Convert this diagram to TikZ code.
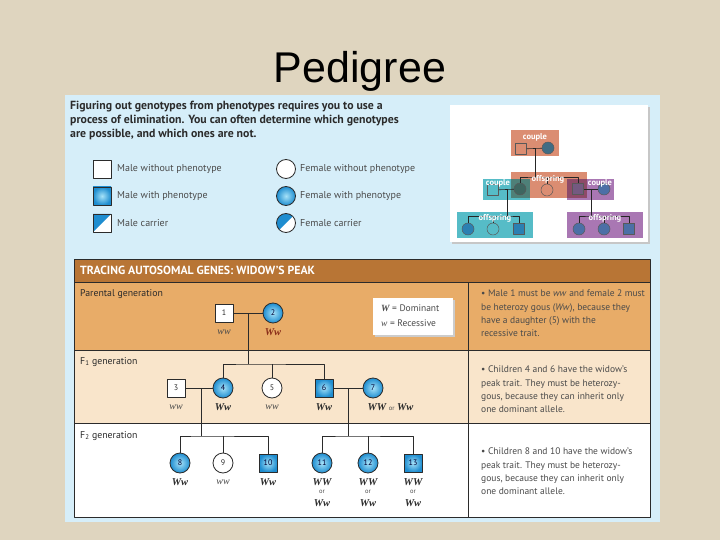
\documentclass[tikz,border=0pt]{standalone}
\usepackage{fontspec}
\setmainfont{PT Sans}
\newfontfamily\titlefont{Liberation Sans}
\newfontfamily\genofont{Liberation Serif}
\usepackage{tikz}

\definecolor{bgbeige}{HTML}{DFD5BF}
\definecolor{panelblue}{HTML}{D6EEF9}
\definecolor{headbrown}{HTML}{B87535}
\definecolor{rowtan}{HTML}{E8AC68}
\definecolor{rowpeach}{HTML}{F9E5CB}
\definecolor{phenoblue}{HTML}{1E8DD0}
\definecolor{phenolight}{HTML}{A6E2F8}
\definecolor{linedark}{HTML}{2B2B2B}
\definecolor{textgray}{HTML}{4A4A4A}
\definecolor{genored}{HTML}{8A2E1A}
\definecolor{minisalmon}{HTML}{DB8D72}
\definecolor{miniteal}{HTML}{56BCC7}
\definecolor{minipurple}{HTML}{A977B3}
\definecolor{minitealdark}{HTML}{4E8078}
\definecolor{minirose}{HTML}{8E4A68}
\definecolor{miniblue}{HTML}{4C6FA6}
\definecolor{minislate}{HTML}{3F6C84}

\tikzset{
  male/.style={draw=linedark,line width=0.8pt,fill=white,minimum size=18pt,inner sep=0pt,
    text=linedark,font=\fontsize{8}{8}\selectfont},
  female/.style={circle,draw=linedark,line width=0.8pt,fill=white,minimum size=20pt,inner sep=0pt,
    text=linedark,font=\fontsize{8}{8}\selectfont},
  affected/.style={shading=radial,inner color=phenolight,outer color=phenoblue,text=black!80!blue},
  carrier/.style={path picture={\fill[phenoblue] (path picture bounding box.north west)
    -- (path picture bounding box.north east) -- (path picture bounding box.south west) -- cycle;}},
  kin/.style={draw=linedark,line width=0.8pt},
  geno/.style={font=\genofont\itshape\bfseries\fontsize{10.5}{10.5}\selectfont,text=linedark},
  genolight/.style={font=\genofont\itshape\fontsize{10}{10}\selectfont,text=textgray},
  ortext/.style={font=\fontsize{6.5}{6.5}\selectfont,text=textgray},
  rowlabel/.style={anchor=west,inner sep=0pt,font=\fontsize{9.8}{10}\selectfont,text=linedark},
  legendlabel/.style={anchor=west,inner sep=0pt,font=\fontsize{10}{10}\selectfont,text=textgray},
  note/.style={anchor=north west,inner sep=0pt,align=left,font=\fontsize{9.5}{13.3}\selectfont,text=textgray},
  tablerule/.style={draw=linedark,line width=0.9pt},
  minim/.style={draw=black!65,line width=0.5pt,minimum size=11pt,inner sep=0pt},
  minif/.style={circle,draw=black!65,line width=0.5pt,minimum size=12pt,inner sep=0pt},
  minilabel/.style={inner sep=0.5pt,text=white,font=\bfseries\fontsize{8.5}{8.5}\selectfont},
  minikin/.style={draw=black!85,line width=0.6pt}
}

\begin{document}
\begin{tikzpicture}[x=1pt,y=-1pt,line join=round]
  \useasboundingbox (0,0) rectangle (720,540);
  \fill[bgbeige] (0,0) rectangle (720,540);
  \node[font=\titlefont\fontsize{43}{43}\selectfont,anchor=base,inner sep=0pt] (title) at (360,83) {Pedigree};

  % light blue panel
  \fill[panelblue] (65,95) rectangle (660,522);
  \node[anchor=north west,inner sep=0pt,align=left,text=linedark,
    font=\bfseries\fontsize{11.8}{14}\selectfont] (intro) at (70,101)
    {Figuring out genotypes from phenotypes requires you to use a\\
     process of elimination. You can often determine which genotypes\\
     are possible, and which ones are not.};

  % legend
  \node[male] (lgA) at (102,169) {};
  \node[male,affected] (lgB) at (102,196) {};
  \node[male,carrier] (lgC) at (102,223) {};
  \node[female,minimum size=19pt] (lgD) at (286,169) {};
  \node[female,affected,minimum size=19pt] (lgE) at (286,196) {};
  \node[female,carrier,minimum size=19pt] (lgF) at (286,223) {};
  \node[legendlabel] (lgAt) at (117,169) {Male without phenotype};
  \node[legendlabel] (lgBt) at (117,196) {Male with phenotype};
  \node[legendlabel] (lgCt) at (117,223) {Male carrier};
  \node[legendlabel] (lgDt) at (300,169) {Female without phenotype};
  \node[legendlabel] (lgEt) at (300,196) {Female with phenotype};
  \node[legendlabel] (lgFt) at (300,223) {Female carrier};

  % overview of couples and offspring
  \fill[black!22] (452,107) rectangle (650,244);
  \fill[white] (450,105) rectangle (648,242);
  \fill[minisalmon] (511,130) rectangle (559,156);
  \fill[minisalmon] (511,172) rectangle (587,198);
  \fill[miniteal] (483,179) rectangle (530,200);
  \fill[minipurple] (567,179) rectangle (614,200);
  \fill[minitealdark] (511,179) rectangle (530,198);
  \fill[minirose] (567,179) rectangle (587,198);
  \fill[miniteal] (457,212) rectangle (533,238);
  \fill[minipurple] (567,212) rectangle (643,238);
  \node[minim,fill=minisalmon] (tm) at (521,149) {};
  \node[minif,fill=minislate] (tf) at (548,148) {};
  \node[minim,fill=miniteal] (lm) at (493,190) {};
  \node[minif,fill=minitealdark!80!black] (lf) at (520,189) {};
  \node[minif,fill=minisalmon] (om) at (547,190) {};
  \node[minim,fill=minirose!60!miniblue] (rm) at (578,189) {};
  \node[minif,fill=miniblue] (rf) at (604,189) {};
  \node[minif,fill=phenoblue!60!minislate] (a1) at (468,229) {};
  \node[minif,fill=miniteal] (a2) at (493,229) {};
  \node[minim,fill=phenoblue!60!minislate] (a3) at (519,229) {};
  \node[minif,fill=miniblue] (b1) at (579,229) {};
  \node[minif,fill=miniblue] (b2) at (604,229) {};
  \node[minim,fill=miniblue] (b3) at (629,229) {};
  \coordinate (tc) at (535,149);
  \coordinate (oc) at (535,177);
  \coordinate (lc) at (507,190);
  \coordinate (lo) at (507,216);
  \coordinate (rc) at (591,189);
  \coordinate (ro) at (591,216);
  \draw[minikin] (tm) -- (tf);
  \draw[minikin] (tc) -- (oc);
  \draw[minikin] (lf.north) |- (oc) -| (rm.north);
  \draw[minikin] (om.north) -- (om.north |- oc);
  \draw[minikin] (lm) -- (lf);
  \draw[minikin] (lc) -- (lo);
  \draw[minikin] (a1.north) |- (lo) -| (a3.north);
  \draw[minikin] (a2.north) -- (a2.north |- lo);
  \draw[minikin] (rm) -- (rf);
  \draw[minikin] (rc) -- (ro);
  \draw[minikin] (b1.north) |- (ro) -| (b3.north);
  \draw[minikin] (b2.north) -- (b2.north |- ro);
  \node[minilabel] (cpT) at (535,137) {couple};
  \node[minilabel] (cpL) at (498,183) {couple};
  \node[minilabel] (cpR) at (600,183) {couple};
  \node[minilabel] (osT) at (548,179) {offspring};
  \node[minilabel] (osL) at (495,218) {offspring};
  \node[minilabel] (osR) at (605,218) {offspring};

  % table
  \fill[headbrown] (74,259) rectangle (650,282);
  \fill[rowtan] (74,282) rectangle (650,350);
  \fill[rowpeach] (74,350) rectangle (650,423);
  \fill[white] (74,423) rectangle (650,517);
  \draw[tablerule] (74,259) rectangle (650,517);
  \draw[tablerule] (74,282) -- (650,282);
  \draw[tablerule] (74,350) -- (650,350);
  \draw[tablerule] (74,423) -- (650,423);
  \draw[tablerule] (468,282) -- (468,517);
  \node[anchor=west,inner sep=0pt,text=white,font=\bfseries\fontsize{11.8}{12}\selectfont] (head) at (80,270)
    {TRACING AUTOSOMAL GENES: WIDOW'S PEAK};
  \node[rowlabel] (rowP) at (80,294) {Parental generation};
  \node[rowlabel] (rowF1) at (80,362) {F\textsubscript{1} generation};
  \node[rowlabel] (rowF2) at (80,436) {F\textsubscript{2} generation};

  % allele key
  \fill[black!20] (375,300) rectangle (455,337);
  \fill[white] (373,298) rectangle (453,335);
  \node[anchor=west,inner sep=0pt,font=\fontsize{9.5}{10}\selectfont,text=textgray] (keyW) at (381,308)
    {{\genofont\itshape\bfseries W} = Dominant};
  \node[anchor=west,inner sep=0pt,font=\fontsize{9.5}{10}\selectfont,text=textgray] (keyw) at (381,323)
    {{\genofont\itshape w} = Recessive};

  % individuals
  \node[male] (p1) at (224,313) {1};
  \node[female,affected] (p2) at (273,313) {2};
  \node[male] (p3) at (176,388) {3};
  \node[female,affected] (p4) at (223,388) {4};
  \node[female] (p5) at (272,388) {5};
  \node[male,affected] (p6) at (324,388) {6};
  \node[female,affected] (p7) at (373,388) {7};
  \node[female,affected] (p8) at (180,463) {8};
  \node[female] (p9) at (223,463) {9};
  \node[male,affected] (p10) at (268,463) {10};
  \node[female,affected] (p11) at (322,463) {11};
  \node[female,affected] (p12) at (368,463) {12};
  \node[male,affected] (p13) at (413,463) {13};

  % matings and sibships
  \coordinate (m12) at (248,313);
  \coordinate (sib1) at (248,364);
  \coordinate (m34) at (201,388);
  \coordinate (sib2) at (201,436);
  \coordinate (m67) at (348,388);
  \coordinate (sib3) at (348,436);
  \draw[kin] (p1) -- (p2);
  \draw[kin] (m12) -- (sib1);
  \draw[kin] (p4.north) |- (sib1) -| (p6.north);
  \draw[kin] (p5.north) -- (p5.north |- sib1);
  \draw[kin] (p3) -- (p4);
  \draw[kin] (m34) -- (sib2);
  \draw[kin] (p8.north) |- (sib2) -| (p10.north);
  \draw[kin] (p9.north) -- (p9.north |- sib2);
  \draw[kin] (p6) -- (p7);
  \draw[kin] (m67) -- (sib3);
  \draw[kin] (p11.north) |- (sib3) -| (p13.north);
  \draw[kin] (p12.north) -- (p12.north |- sib3);

  % genotypes
  \node[genolight] (g1) at (224,332) {ww};
  \node[geno,text=genored] (g2) at (273,332) {Ww};
  \node[genolight] (g3) at (176,407) {ww};
  \node[geno] (g4) at (223,407) {Ww};
  \node[genolight] (g5) at (272,407) {ww};
  \node[geno] (g6) at (324,407) {Ww};
  \node[geno,anchor=west] (g7) at (364,407) {WW {\normalfont\fontsize{6.5}{6.5}\selectfont\color{textgray} or} Ww};
  \node[geno] (g8) at (180,482) {Ww};
  \node[genolight] (g9) at (223,482) {ww};
  \node[geno] (g10) at (268,482) {Ww};
  \node[geno] (g11) at (322,482) {WW};
  \node[ortext] (o11) at (322,492) {or};
  \node[geno] (h11) at (322,503) {Ww};
  \node[geno] (g12) at (368,482) {WW};
  \node[ortext] (o12) at (368,492) {or};
  \node[geno] (h12) at (368,503) {Ww};
  \node[geno] (g13) at (413,482) {WW};
  \node[ortext] (o13) at (413,492) {or};
  \node[geno] (h13) at (413,503) {Ww};

  % explanations
  \node[note] (noteP) at (481,290)
    {\textbullet\ Male 1 must be \textit{ww} and female 2 must\\
     be heterozy gous (\textit{Ww}), because they\\
     have a daughter (5) with the\\
     recessive trait.};
  \node[note] (noteF1) at (481,366)
    {\textbullet\ Children 4 and 6 have the widow's\\
     peak trait. They must be heterozy-\\
     gous, because they can inherit only\\
     one dominant allele.};
  \node[note] (noteF2) at (481,448)
    {\textbullet\ Children 8 and 10 have the widow's\\
     peak trait. They must be heterozy-\\
     gous, because they can inherit only\\
     one dominant allele.};
\end{tikzpicture}
\end{document}
